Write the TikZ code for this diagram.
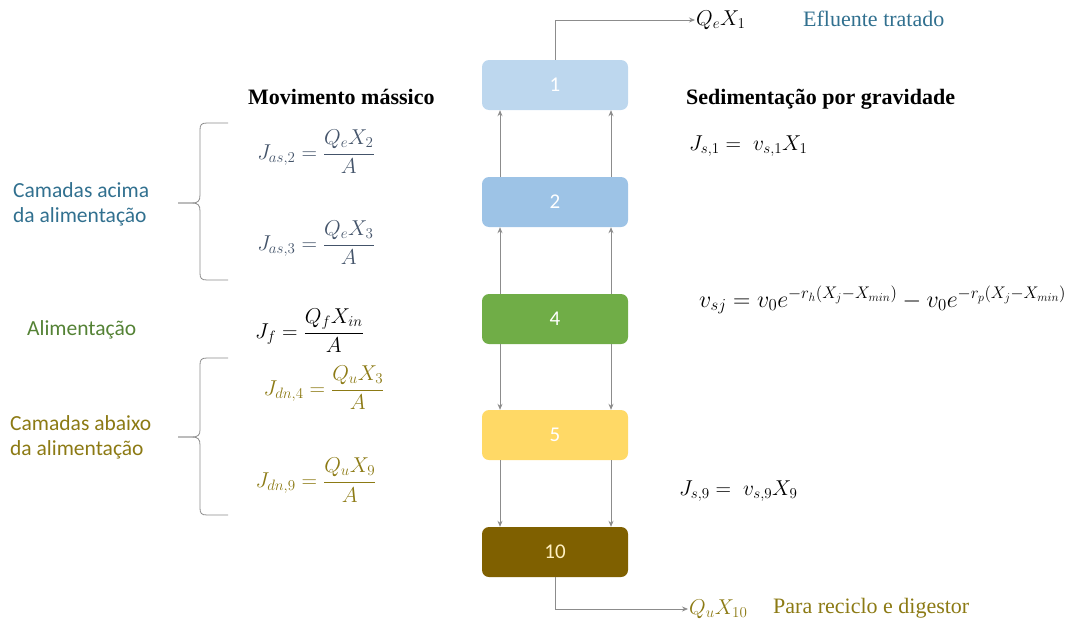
\RequirePackage{fix-cm}
\documentclass[tikz,border=0pt]{standalone}
\usepackage{fontspec}
\setmainfont{Liberation Serif}
\newfontfamily\calib{Carlito}
\usetikzlibrary{arrows.meta}
\definecolor{cA}{HTML}{BDD7EE}
\definecolor{cB}{HTML}{9DC3E6}
\definecolor{cC}{HTML}{70AD47}
\definecolor{cD}{HTML}{FFD966}
\definecolor{cE}{HTML}{7F6000}
\definecolor{tealt}{HTML}{31708F}
\definecolor{greent}{HTML}{548235}
\definecolor{olivet}{HTML}{8C7A14}
\definecolor{slate}{HTML}{44546A}
\definecolor{linegray}{HTML}{8C8C8C}
\tikzset{
  layer/.style={rounded corners=7pt, minimum width=146pt, minimum height=50pt, inner sep=0pt, font=\calib\fontsize{21}{24}\selectfont, text=white},
  flow/.style={draw=linegray, line width=0.8pt, -{Stealth[length=6pt,width=5pt]}},
  brace/.style={draw=linegray, line width=0.8pt},
  eq/.style={font=\fontsize{21.5}{25}\selectfont, inner sep=1pt},
  side/.style={font=\calib\fontsize{21.5}{25}\selectfont, align=left, inner sep=0pt},
  head/.style={font=\bfseries\fontsize{22}{26}\selectfont, inner sep=0pt},
  lbl/.style={font=\fontsize{22}{26}\selectfont, inner sep=0pt}
}
\begin{document}
\begin{tikzpicture}[x=1pt,y=-1pt]
\useasboundingbox (0,0) rectangle (1091,621);
% layers
\node[layer, fill=cA] (b1) at (555,85) {1};
\node[layer, fill=cB] (b2) at (555,202) {2};
\node[layer, fill=cC] (b4) at (555,319) {4};
\node[layer, fill=cD] (b5) at (555,435) {5};
\node[layer, fill=cE, text=cD!40] (b10) at (555,552) {10};
% vertical flows
\draw[flow] ([xshift=-55pt]b2.north) -- ([xshift=-55pt]b1.south);
\draw[flow] ([xshift=56pt]b2.north) -- ([xshift=56pt]b1.south);
\draw[flow] ([xshift=-55pt]b4.north) -- ([xshift=-55pt]b2.south);
\draw[flow] ([xshift=56pt]b4.north) -- ([xshift=56pt]b2.south);
\draw[flow] ([xshift=-55pt]b4.south) -- ([xshift=-55pt]b5.north);
\draw[flow] ([xshift=56pt]b4.south) -- ([xshift=56pt]b5.north);
\draw[flow] ([xshift=-55pt]b5.south) -- ([xshift=-55pt]b10.north);
\draw[flow] ([xshift=56pt]b5.south) -- ([xshift=56pt]b10.north);
% outputs
\node[eq, anchor=west] (qe) at (695,20) {$Q_eX_1$};
\node[lbl, anchor=west, text=tealt] (eft) at (803,19) {Efluente tratado};
\draw[flow] (b1.north) |- (qe.west);
\node[eq, anchor=west, text=olivet] (qu) at (688,609) {$Q_uX_{10}$};
\node[lbl, anchor=west, text=olivet] (prd) at (773,608) {Para reciclo e digestor};
\draw[flow] (b10.south) |- (qu.west);
% headings
\node[head, anchor=west] (hm) at (248,97) {Movimento mássico};
\node[head, anchor=west] (hs) at (686,99) {Sedimentação por gravidade};
% left side labels
\node[side, anchor=west, text=tealt] (ca) at (13,204) {Camadas acima\\da alimentação};
\node[side, anchor=west, text=greent] (al) at (27,330) {Alimentação};
\node[side, anchor=west, text=olivet] (cb) at (10,437) {Camadas abaixo\\da alimentação};
% braces
\draw[brace] (228,123) -- (207,123) .. controls (201,123) and (200,125) .. (200,130) -- (200,195)
  .. controls (200,201) and (198,203) .. (192,203) -- (178,203);
\draw[brace] (178,203) -- (192,203) .. controls (198,203) and (200,205) .. (200,211) -- (200,273)
  .. controls (200,278) and (201,280) .. (207,280) -- (228,280);
\draw[brace] (228,358) -- (207,358) .. controls (201,358) and (200,360) .. (200,365) -- (200,430)
  .. controls (200,435) and (198,437) .. (192,437) -- (178,437);
\draw[brace] (178,437) -- (192,437) .. controls (198,437) and (200,439) .. (200,445) -- (200,508)
  .. controls (200,513) and (201,515) .. (207,515) -- (228,515);
% left equations
\node[eq, text=slate] (e1) at (316,152) {$\displaystyle J_{as,2}=\frac{Q_eX_2}{A}$};
\node[eq, text=slate] (e2) at (316,243) {$\displaystyle J_{as,3}=\frac{Q_eX_3}{A}$};
\node[eq, anchor=west] (e3) at (254,331) {$\displaystyle J_{f}=\frac{Q_fX_{in}}{A}$};
\node[eq, text=olivet] (e4) at (324,388) {$\displaystyle J_{dn,4}=\frac{Q_uX_3}{A}$};
\node[eq, text=olivet] (e5) at (316,480) {$\displaystyle J_{dn,9}=\frac{Q_uX_9}{A}$};
% right equations
\node[eq, anchor=west] (r1) at (688,146) {$J_{s,1} = \; v_{s,1}X_1$};
\node[eq, anchor=west, font=\fontsize{24}{28}\selectfont] (r2) at (698,300) {$v_{sj} = v_0e^{-r_h(X_j-X_{min})} - v_0e^{-r_p(X_j-X_{min})}$};
\node[eq, anchor=west] (r3) at (678,491) {$J_{s,9} = \; v_{s,9}X_9$};
\end{tikzpicture}
\end{document}
